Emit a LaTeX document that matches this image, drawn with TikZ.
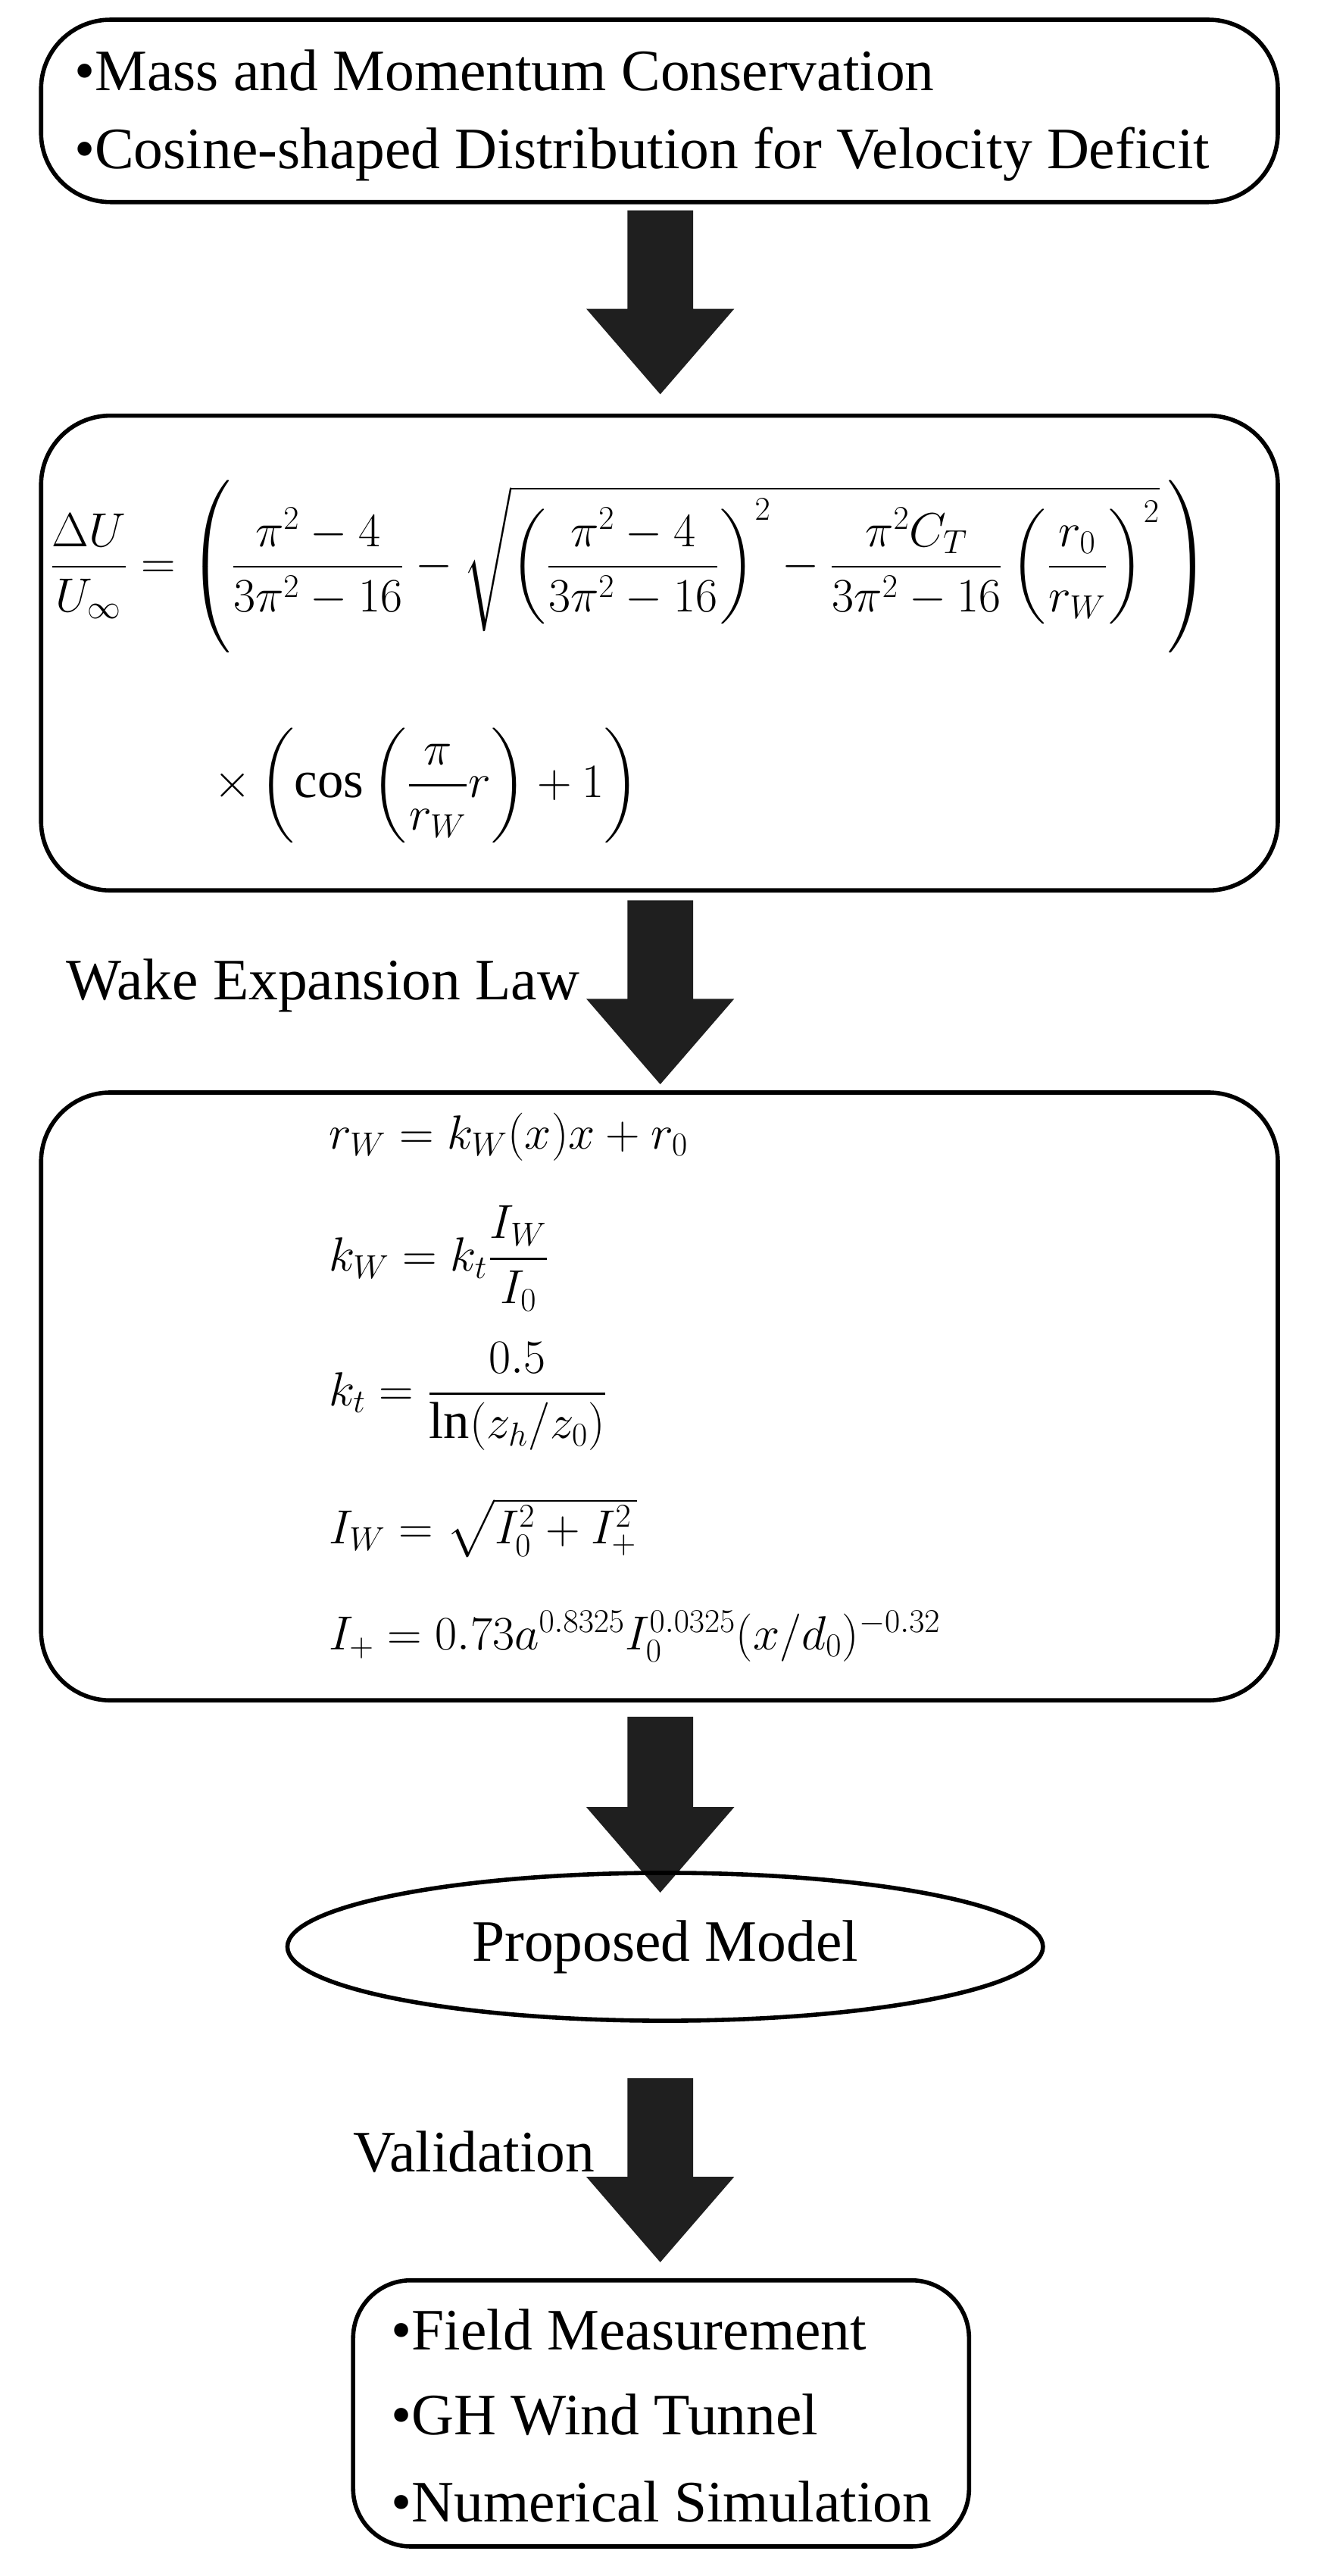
\documentclass[tikz,border=0pt]{standalone}
\usepackage{amsmath}
\usepackage{fontspec}
\setmainfont{Liberation Serif}
\usetikzlibrary{shapes.geometric}
\begin{document}
\begin{tikzpicture}[x=0.03cm,y=-0.03cm,
  box/.style={draw,line width=2.2pt,rounded corners=36},
  txt/.style={font=\fontsize{30.5}{36}\selectfont,inner sep=0,anchor=west},
  math/.style={font=\fontsize{27}{32}\selectfont,inner sep=0,anchor=west},
  eq/.style={font=\fontsize{27}{32}\selectfont,inner sep=0,anchor=west}]
\useasboundingbox (0,0) rectangle (804,1568);
\newcommand{\barrow}[3]{% x, ytop, ybottom
  \fill[black!88] (#1-20,#2) -- (#1+20,#2) -- (#1+20,#3-52) -- (#1+45,#3-52) -- (#1,#3) -- (#1-45,#3-52) -- (#1-20,#3-52) -- cycle;}
% box 1
\draw[box] (25,12) rectangle (778,123);
\node[txt] (b1a) at (45,43) {•Mass and Momentum Conservation};
\node[txt] (b1b) at (45,94) {•Cosine-shaped Distribution for Velocity Deficit};
\barrow{402}{128}{240}
% box 2
\draw[box] (25,253) rectangle (778,542);
\node[math] (f1) at (30,345) {$\dfrac{\Delta U}{U_\infty}=\left(\dfrac{\pi^2-4}{3\pi^2-16}-\sqrt{\left(\dfrac{\pi^2-4}{3\pi^2-16}\right)^{2}-\dfrac{\pi^2C_T}{3\pi^2-16}\left(\dfrac{r_0}{r_W}\right)^{2}}\,\right)$};
\node[math] (f2) at (130,478) {$\times\left(\cos\left(\dfrac{\pi}{r_W}r\right)+1\right)$};
\barrow{402}{548}{660}
\node[txt] (wel) at (40,600) {Wake Expansion Law};
% box 3
\draw[box] (25,665) rectangle (778,1035);
\node[eq] (e1) at (200,692) {$r_W=k_W(x)x+r_0$};
\node[eq] (e2) at (200,766) {$k_W=k_t\dfrac{I_W}{I_0}$};
\node[eq] (e3) at (200,850) {$k_t=\dfrac{0.5}{\ln(z_h/z_0)}$};
\node[eq] (e4) at (200,930) {$I_W=\sqrt{I_0^2+I_+^2}$};
\node[eq] (e5) at (200,996) {$I_+=0.73a^{0.8325}I_0^{0.0325}(x/d_0)^{-0.32}$};
\barrow{402}{1045}{1152}
% ellipse
\node[draw,line width=2.2pt,ellipse,minimum width=13.8cm,minimum height=2.7cm,inner sep=0,font=\fontsize{30.5}{36}\selectfont] (pm) at (405,1185) {Proposed Model};
\barrow{402}{1265}{1377}
\node[txt] (val) at (215,1310) {Validation};
% box 4
\draw[box,rounded corners=30] (215,1388) rectangle (590,1550);
\node[txt] (c1) at (238,1418) {•Field Measurement};
\node[txt] (c2) at (238,1470) {•GH Wind Tunnel};
\node[txt] (c3) at (238,1523) {•Numerical Simulation};
\end{tikzpicture}
\end{document}
